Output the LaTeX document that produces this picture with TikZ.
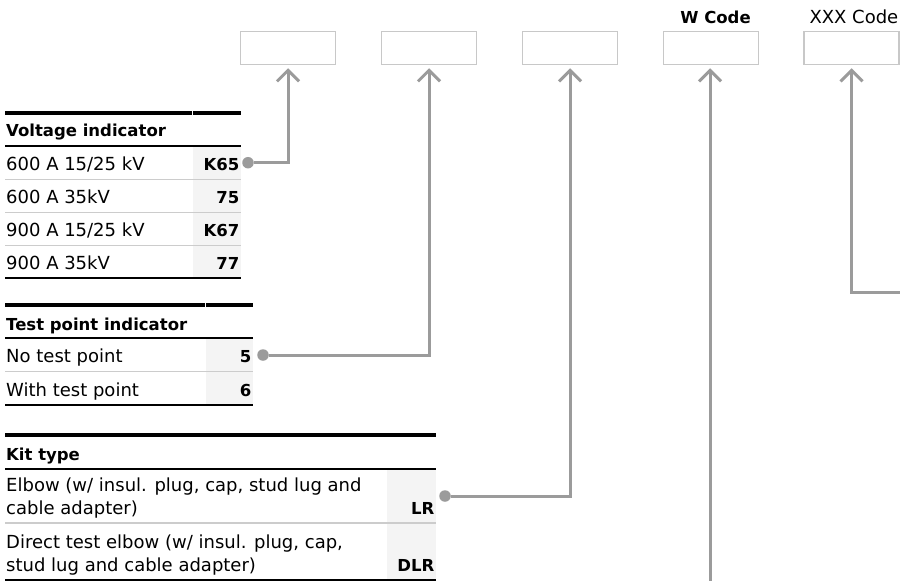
\documentclass[tikz,border=0pt]{standalone}
\usepackage{fontspec}
\setmainfont{DejaVu Sans}
\usetikzlibrary{arrows.meta}
\definecolor{connGray}{HTML}{9B9B9B}
\definecolor{boxGray}{HTML}{C8C8C8}
\definecolor{rowGray}{HTML}{CCCCCC}
\definecolor{shadeGray}{HTML}{F4F4F4}
\begin{document}
\begin{tikzpicture}[x=1pt,y=-1pt,
  codebox/.style={draw=boxGray, line width=1.5pt, minimum width=95pt, minimum height=33pt, inner sep=0pt},
  txt/.style={anchor=base west, inner sep=0pt, font=\fontsize{18}{22.7}\selectfont},
  hdr/.style={anchor=base west, inner sep=0pt, font=\fontsize{16.5}{20}\selectfont\bfseries},
  codetxt/.style={anchor=base east, inner sep=0pt, font=\fontsize{16.5}{20}\selectfont\bfseries},
  cdot/.style={circle, fill=connGray, minimum size=11.5pt, inner sep=0pt},
  connline/.style={draw=connGray, line width=3pt},
  arr/.style={connline, -{Straight Barb[length=11pt, width=22pt]}, shorten >=3pt},
  thickrule/.style={line width=4pt},
  headrule/.style={line width=2pt},
  seprule/.style={draw=rowGray, line width=1.3pt},
  botrule/.style={line width=2.3pt},
]
\fill[white] (0,0) rectangle (900,581);
\useasboundingbox (0,0) rectangle (900,581);

% top code boxes
\node[codebox] (b1) at (288,48) {};
\node[codebox] (b2) at (429,48) {};
\node[codebox] (b3) at (570,48) {};
\node[codebox] (b4) at (711,48) {};
\node[codebox] (b5) at (851.5,48) {};
\node[hdr, anchor=base] (lw) at (715.5,23.3) {W Code};
\node[anchor=base east, inner sep=0pt, font=\fontsize{18}{22}\selectfont] (lx) at (898.5,23.3) {XXX Code};

% ---------- Table 1: Voltage indicator ----------
\fill[shadeGray] (192.7,145.7) rectangle (241,278.3);
\draw[thickrule] (5,112.7) -- (192.4,112.7);
\draw[thickrule] (193,112.7) -- (241,112.7);
\draw[headrule] (5,145.7) -- (241,145.7);
\draw[seprule] (5,179.3) -- (241,179.3);
\draw[seprule] (5,212.3) -- (241,212.3);
\draw[seprule] (5,245.7) -- (241,245.7);
\draw[botrule] (5,278.3) -- (241,278.3);
\node[hdr] (h1) at (6,136.7) {Voltage indicator};
\node[txt] (r11) at (6,170.7) {600 A 15/25 kV};
\node[txt] (r12) at (6,203.7) {600 A 35kV};
\node[txt] (r13) at (6,236.7) {900 A 15/25 kV};
\node[txt] (r14) at (6,269.7) {900 A 35kV};
\node[codetxt] (c11) at (239.5,170.7) {K65};
\node[codetxt] (c12) at (239.5,203.7) {75};
\node[codetxt] (c13) at (239.5,236.7) {K67};
\node[codetxt] (c14) at (239.5,269.7) {77};

% ---------- Table 2: Test point indicator ----------
\fill[shadeGray] (205.7,338.3) rectangle (253,405);
\draw[thickrule] (5,305) -- (205.4,305);
\draw[thickrule] (206,305) -- (253,305);
\draw[headrule] (5,338.3) -- (253,338.3);
\draw[seprule] (5,371.7) -- (253,371.7);
\draw[botrule] (5,405) -- (253,405);
\node[hdr] (h2) at (6,330) {Test point indicator};
\node[txt] (r21) at (6,362.7) {No test point};
\node[txt] (r22) at (6,396) {With test point};
\node[codetxt] (c21) at (251.5,362.7) {5};
\node[codetxt] (c22) at (251.5,396) {6};

% ---------- Table 3: Kit type ----------
\fill[shadeGray] (387,469) rectangle (436,580);
\draw[thickrule] (5,435) -- (386.7,435);
\draw[thickrule] (387.3,435) -- (436,435);
\draw[headrule] (5,469) -- (436,469);
\draw[seprule] (5,523) -- (436,523);
\draw[botrule] (5,580) -- (436,580);
\node[hdr] (h3) at (6,460) {Kit type};
\node[txt] (r31a) at (6,491.7) {Elbow (w/ insul. plug, cap, stud lug and};
\node[txt] (r31b) at (6,514.3) {cable adapter)};
\node[txt] (r32a) at (6,548.3) {Direct test elbow (w/ insul. plug, cap,};
\node[txt] (r32b) at (6,571.7) {stud lug and cable adapter)};
\node[codetxt] (c31) at (434.5,514.3) {LR};
\node[codetxt] (c32) at (434.5,571.7) {DLR};

% ---------- connectors ----------
\node[cdot] (d1) at (248,162.7) {};
\node[cdot] (d2) at (263,355) {};
\node[cdot] (d3) at (445,496) {};
\coordinate (e4) at (710,581);
\coordinate (e5) at (900,292);

\draw[arr] (d1) -| (b1.south);
\draw[arr] (d2) -| (b2.south);
\draw[arr] (d3) -| (b3.south);
\draw[arr] (e4) -- (e4 |- b4.south);
\draw[arr] (e5) -| (b5.south);
\end{tikzpicture}
\end{document}
